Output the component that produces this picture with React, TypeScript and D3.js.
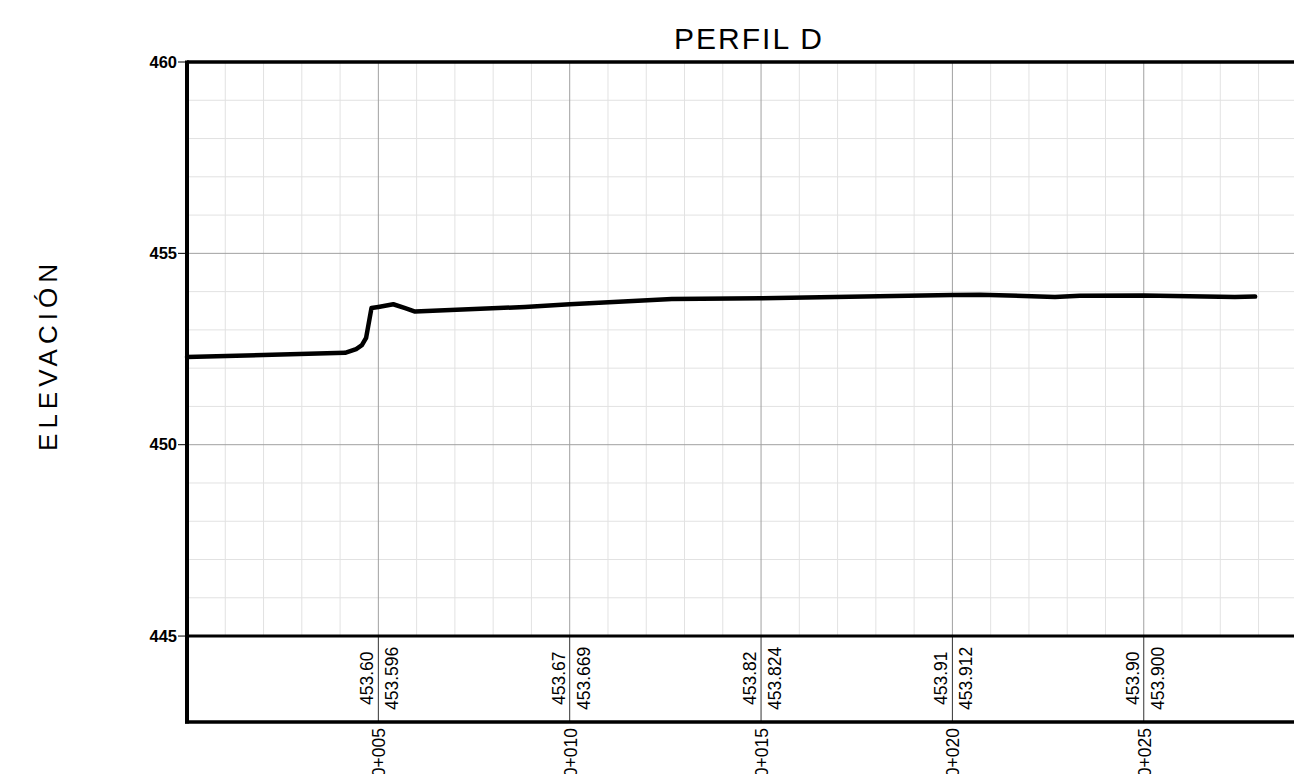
import React from 'react';
import * as d3 from 'd3';

const width = 1294;
const height = 774;
const margin = { top: 62, left: 187 };
const unitPx = 38.27;

// profile ground line (chainage in m, elevation in m)
const chainage = [0, 4.13, 4.42, 4.57, 4.68, 4.82, 5.0, 5.39, 5.7, 5.96, 8.83, 10.0, 12.67, 15.0, 16.93, 20.0, 20.72, 22.68, 23.33, 25.0, 27.38, 27.91];
const elevation = [452.29, 452.4, 452.5, 452.6, 452.79, 453.57, 453.6, 453.67, 453.57, 453.48, 453.6, 453.669, 453.81, 453.824, 453.86, 453.912, 453.92, 453.86, 453.89, 453.9, 453.86, 453.87];

const stations = [5, 10, 15, 20, 25];
const stationLabels = ['0+005', '0+010', '0+015', '0+020', '0+025'];
const roundedLabels = ['453.60', '453.67', '453.82', '453.91', '453.90'];
const exactLabels = ['453.596', '453.669', '453.824', '453.912', '453.900'];
const yTicks = [445, 450, 455, 460];

const xMax = 30;
const xScale = d3.scaleLinear().domain([0, xMax]).range([margin.left, margin.left + xMax * unitPx]);
const yScale = d3.scaleLinear().domain([445, 460]).range([margin.top + 15 * unitPx, margin.top]);
const bandBottom = 722;
const font = 'Liberation Sans, Arial, sans-serif';

export default function App() {
    const points = chainage.map((c, i) => [c, elevation[i]] as [number, number]);
    const line = d3.line<[number, number]>()
        .x(d => xScale(d[0]))
        .y(d => yScale(d[1]));

    const minorX = d3.range(1, xMax + 1).filter(v => v % 5 !== 0);
    const majorX = d3.range(5, xMax + 1, 5);
    const minorY = d3.range(446, 460).filter(v => v % 5 !== 0);
    const majorY = [450, 455];
    const y0 = yScale(445);
    const right = width + 20;

    return (
        <svg width={width} height={height} style={{ position: 'absolute', left: 0, top: 0, background: '#fff' }}>
            {/* grid */}
            {minorX.map(v => (
                <line key={'mx' + v} x1={xScale(v)} x2={xScale(v)} y1={yScale(460)} y2={y0} stroke="#e2e2e2" strokeWidth={1} />
            ))}
            {minorY.map(v => (
                <line key={'my' + v} x1={margin.left} x2={right} y1={yScale(v)} y2={yScale(v)} stroke="#e2e2e2" strokeWidth={1} />
            ))}
            {majorY.map(v => (
                <line key={'My' + v} x1={margin.left} x2={right} y1={yScale(v)} y2={yScale(v)} stroke="#a0a0a0" strokeWidth={1} />
            ))}
            {majorX.map(v => (
                <line key={'Mx' + v} x1={xScale(v)} x2={xScale(v)} y1={yScale(460)} y2={y0} stroke="#a0a0a0" strokeWidth={1} />
            ))}

            {/* band station lines */}
            {stations.map(s => (
                <line key={'b' + s} x1={xScale(s)} x2={xScale(s)} y1={y0} y2={bandBottom} stroke="#333" strokeWidth={1} />
            ))}

            {/* frame */}
            <line x1={margin.left} x2={right} y1={yScale(460)} y2={yScale(460)} stroke="#000" strokeWidth={3.5} />
            <line x1={margin.left} x2={right} y1={y0} y2={y0} stroke="#000" strokeWidth={3} />
            <line x1={margin.left - 2} x2={right} y1={bandBottom} y2={bandBottom} stroke="#000" strokeWidth={3.5} />
            <line x1={margin.left} x2={margin.left} y1={yScale(460) - 1.5} y2={bandBottom + 1.5} stroke="#000" strokeWidth={4} />

            {/* y axis ticks */}
            {yTicks.map(t => (
                <g key={'t' + t}>
                    <line x1={margin.left - 9} x2={margin.left} y1={yScale(t)} y2={yScale(t)} stroke="#000" strokeWidth={1} />
                    <text x={margin.left - 10} y={yScale(t)} dy="0.35em" textAnchor="end"
                        style={{ fontFamily: font, fontSize: 16.5, fontWeight: 700 }}>{t}</text>
                </g>
            ))}

            {/* profile */}
            <path d={line(points) || ''} fill="none" stroke="#000" strokeWidth={4.5} strokeLinejoin="round" strokeLinecap="round" />

            {/* band labels */}
            {stations.map((s, i) => {
                const x = xScale(s);
                return (
                    <g key={'l' + s} style={{ fontFamily: font, fontSize: 17.5 }}>
                        <text transform={`translate(${x - 5},705) rotate(-90)`} textAnchor="start">{roundedLabels[i]}</text>
                        <text transform={`translate(${x + 20},710) rotate(-90)`} textAnchor="start">{exactLabels[i]}</text>
                        <text transform={`translate(${x + 7},728) rotate(-90)`} textAnchor="end">{stationLabels[i]}</text>
                    </g>
                );
            })}

            {/* titles */}
            <text x={749} y={49} textAnchor="middle"
                style={{ fontFamily: font, fontSize: 30, letterSpacing: 2 }}>PERFIL  D</text>
            <text transform="translate(57,355) rotate(-90)" textAnchor="middle"
                style={{ fontFamily: font, fontSize: 26, letterSpacing: 5 }}>ELEVACIÓN</text>
        </svg>
    );
}
